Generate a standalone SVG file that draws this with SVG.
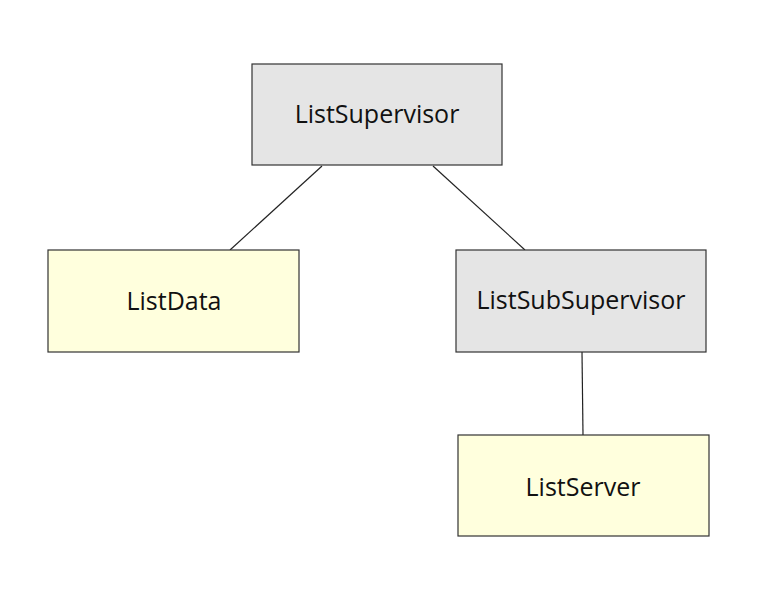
<svg xmlns="http://www.w3.org/2000/svg" width="761" height="592" viewBox="0 0 761 592">
<style>
.box{stroke:#333;stroke-width:1.2}
.sup{fill:#e5e5e5}
.wrk{fill:#ffffdd}
.lbl{font-family:"Open Sans","Noto Sans",sans-serif;font-size:25px;fill:#111;text-anchor:middle;dominant-baseline:central}
.edge{stroke:#222;stroke-width:1.2;fill:none}
</style>
<rect width="761" height="592" fill="#fff"/>
<g id="connectors">
<line class="edge" x1="322" y1="166" x2="230" y2="250"/>
<line class="edge" x1="433" y1="166" x2="525" y2="250"/>
<line class="edge" x1="582" y1="352" x2="583" y2="435"/>
</g>
<g id="ListSupervisor">
<rect class="box sup" x="252" y="64" width="250" height="101"/>
<text class="lbl" x="377" y="113">ListSupervisor</text>
</g>
<g id="ListData">
<rect class="box wrk" x="48" y="250" width="251" height="102"/>
<text class="lbl" x="174" y="300">ListData</text>
</g>
<g id="ListSubSupervisor">
<rect class="box sup" x="456" y="250" width="250" height="102"/>
<text class="lbl" x="581" y="299">ListSubSupervisor</text>
</g>
<g id="ListServer">
<rect class="box wrk" x="458" y="435" width="251" height="101"/>
<text class="lbl" x="583" y="486">ListServer</text>
</g>
</svg>
